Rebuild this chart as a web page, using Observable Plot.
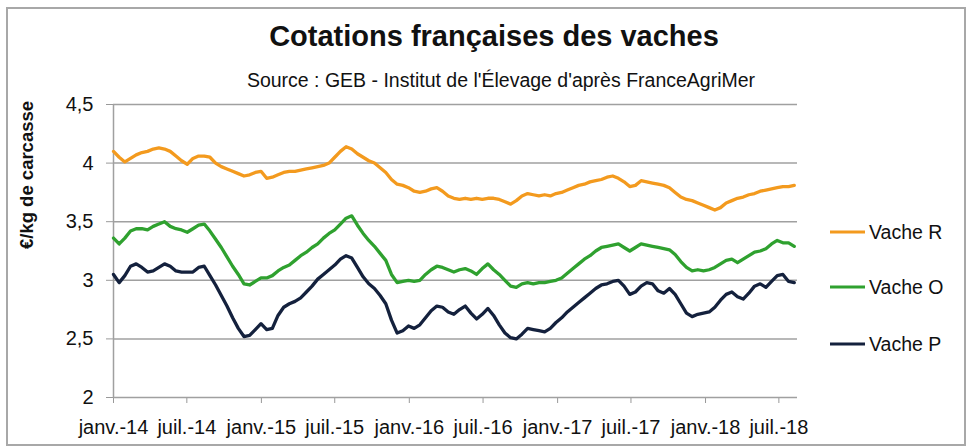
<!DOCTYPE html>
<html><head><meta charset="utf-8">
<script src="https://cdn.jsdelivr.net/npm/d3@7"></script>
<script src="https://cdn.jsdelivr.net/npm/@observablehq/plot@0.6"></script>
<style>
body{margin:0;background:#fff;}
#chart{position:relative;width:968px;height:447px;overflow:hidden;}
</style></head>
<body><div id="chart"></div>
<script>
// Bi-weekly quotations (€/kg carcass), first point = first week of January 2014
const startDate = "2014-01-01";
const stepDays = 14;
const seriesNames = ["Vache R", "Vache O", "Vache P"];
const seriesColors = ["#F39A1E", "#2FA12F", "#14213D"];

const vacheR = [4.10,4.05,4.01,4.04,4.07,4.09,4.10,4.12,4.13,4.12,
4.10,4.06,4.02,3.99,4.04,4.06,4.06,4.05,4.00,3.97,
3.95,3.93,3.91,3.89,3.90,3.92,3.93,3.87,3.88,3.90,
3.92,3.93,3.93,3.94,3.95,3.96,3.97,3.98,4.00,4.05,
4.10,4.14,4.12,4.08,4.05,4.02,4.00,3.96,3.92,3.86,
3.82,3.81,3.79,3.76,3.75,3.76,3.78,3.79,3.76,3.72,
3.70,3.69,3.70,3.69,3.70,3.69,3.70,3.70,3.69,3.67,
3.65,3.68,3.72,3.74,3.73,3.72,3.73,3.72,3.74,3.75,
3.77,3.79,3.81,3.82,3.84,3.85,3.86,3.88,3.89,3.87,
3.84,3.80,3.81,3.85,3.84,3.83,3.82,3.81,3.79,3.75,
3.71,3.69,3.68,3.66,3.64,3.62,3.60,3.62,3.66,3.68,
3.70,3.71,3.73,3.74,3.76,3.77,3.78,3.79,3.80,3.80,3.81];

const vacheO = [3.36,3.31,3.36,3.42,3.44,3.44,3.43,3.46,3.48,3.50,
3.46,3.44,3.43,3.41,3.44,3.47,3.48,3.42,3.35,3.28,
3.20,3.12,3.05,2.97,2.96,2.99,3.02,3.02,3.04,3.08,
3.11,3.13,3.17,3.21,3.24,3.28,3.31,3.36,3.40,3.43,
3.48,3.53,3.55,3.47,3.40,3.34,3.29,3.23,3.17,3.05,
2.98,2.99,3.00,2.99,3.00,3.05,3.09,3.12,3.11,3.09,
3.07,3.09,3.10,3.08,3.05,3.10,3.14,3.09,3.05,3.00,
2.95,2.94,2.97,2.98,2.97,2.98,2.98,2.99,3.00,3.02,
3.06,3.10,3.14,3.18,3.21,3.25,3.28,3.29,3.30,3.31,
3.28,3.25,3.28,3.31,3.30,3.29,3.28,3.27,3.26,3.22,
3.16,3.11,3.08,3.09,3.08,3.09,3.11,3.14,3.17,3.18,
3.15,3.18,3.21,3.24,3.25,3.27,3.31,3.34,3.32,3.32,3.29];

const vacheP = [3.05,2.98,3.04,3.12,3.14,3.11,3.07,3.08,3.11,3.14,
3.12,3.08,3.07,3.07,3.07,3.11,3.12,3.04,2.96,2.87,
2.78,2.68,2.59,2.52,2.53,2.58,2.63,2.58,2.59,2.70,
2.77,2.80,2.82,2.85,2.90,2.95,3.01,3.05,3.09,3.13,
3.18,3.21,3.19,3.11,3.03,2.97,2.93,2.87,2.80,2.66,
2.55,2.57,2.61,2.59,2.62,2.68,2.74,2.78,2.77,2.73,
2.71,2.75,2.78,2.72,2.67,2.71,2.76,2.70,2.62,2.55,
2.51,2.50,2.54,2.59,2.58,2.57,2.56,2.59,2.64,2.68,
2.73,2.77,2.81,2.85,2.89,2.93,2.96,2.97,2.99,3.00,
2.95,2.88,2.90,2.95,2.98,2.97,2.91,2.89,2.93,2.88,
2.80,2.72,2.69,2.71,2.72,2.73,2.77,2.83,2.88,2.90,
2.86,2.84,2.89,2.95,2.97,2.94,2.99,3.04,3.05,2.99,2.98];

const tickDates = ["2014-01-01","2014-07-01","2015-01-01","2015-07-01","2016-01-01","2016-07-01","2017-01-01","2017-07-01","2018-01-01","2018-07-01"];
const tickLabels = ["janv.-14","juil.-14","janv.-15","juil.-15","janv.-16","juil.-16","janv.-17","juil.-17","janv.-18","juil.-18"];
const yTicks = [2, 2.5, 3, 3.5, 4, 4.5];
const yTickLabels = ["2","2,5","3","3,5","4","4,5"];
const xDomain = ["2014-01-01", "2018-08-16"];

const title = "Cotations françaises des vaches";
const subtitle = "Source : GEB - Institut de l'Élevage d'après FranceAgriMer";
const yTitle = "€/kg de carcasse";

// Build long table
const t0 = new Date(startDate + "T00:00:00Z").getTime();
const rows = [];
[vacheR, vacheO, vacheP].forEach((vals, si) => {
  vals.forEach((v, k) => rows.push({date: new Date(t0 + k * stepDays * 864e5), value: v, series: seriesNames[si]}));
});
const tDates = tickDates.map(d => new Date(d + "T00:00:00Z"));
const font = "'Liberation Sans', Arial, sans-serif";

const plot = Plot.plot({
  width: 968, height: 447,
  marginLeft: 113, marginRight: 171, marginTop: 104, marginBottom: 50,
  style: {fontFamily: font, fontSize: "20px", color: "#111", background: "transparent", overflow: "visible"},
  x: {type: "utc", domain: xDomain.map(d => new Date(d + "T00:00:00Z"))},
  y: {domain: [2, 4.5]},
  color: {domain: seriesNames, range: seriesColors},
  marks: [
    Plot.ruleY(yTicks.filter(d => d > 2), {stroke: "#a0a0a0", strokeWidth: 1.5}),
    Plot.axisX({ticks: tDates, tickFormat: (d, i) => tickLabels[i], tickSize: 6, tickPadding: 16, stroke: "#999", label: null, fontSize: 20}),
    Plot.axisY({ticks: yTicks, tickFormat: (d, i) => yTickLabels[i], tickSize: 7, tickPadding: 13, stroke: "#999", label: null, fontSize: 20}),
    Plot.ruleY([2], {stroke: "#a0a0a0", strokeWidth: 1.5}),
    Plot.ruleX([tDates[0]], {stroke: "#a0a0a0", strokeWidth: 1.5}),
    Plot.line(rows, {x: "date", y: "value", z: "series", stroke: "series", strokeWidth: 3.3, strokeLinejoin: "round", curve: "linear"})
  ]
});

document.getElementById("chart").appendChild(plot);
const svg = d3.select(plot);

// frame
svg.insert("rect", ":first-child").attr("x", 7).attr("y", 8).attr("width", 958).attr("height", 437)
  .attr("fill", "none").attr("stroke", "#a8a8a8").attr("stroke-width", 2);

svg.append("text").attr("x", 494).attr("y", 46).attr("text-anchor", "middle")
  .attr("font-family", font).attr("font-weight", "bold").attr("font-size", 29).attr("fill", "#111").text(title);
svg.append("text").attr("x", 501).attr("y", 87).attr("text-anchor", "middle")
  .attr("font-family", font).attr("font-size", 19.5).attr("fill", "#111").text(subtitle);
svg.append("text").attr("transform", "translate(33,175) rotate(-90)").attr("text-anchor", "middle")
  .attr("font-family", font).attr("font-weight", "bold").attr("font-size", 18.5).attr("fill", "#111").text(yTitle);

// legend
const legendY = [232, 287, 344];
seriesNames.forEach((name, i) => {
  svg.append("line").attr("x1", 830).attr("x2", 865).attr("y1", legendY[i]).attr("y2", legendY[i])
    .attr("stroke", seriesColors[i]).attr("stroke-width", 3);
  svg.append("text").attr("x", 869).attr("y", legendY[i]).attr("dy", "0.36em").attr("text-anchor", "start")
    .attr("font-family", font).attr("font-size", 19.5).attr("fill", "#111").text(name);
});
</script></body></html>
